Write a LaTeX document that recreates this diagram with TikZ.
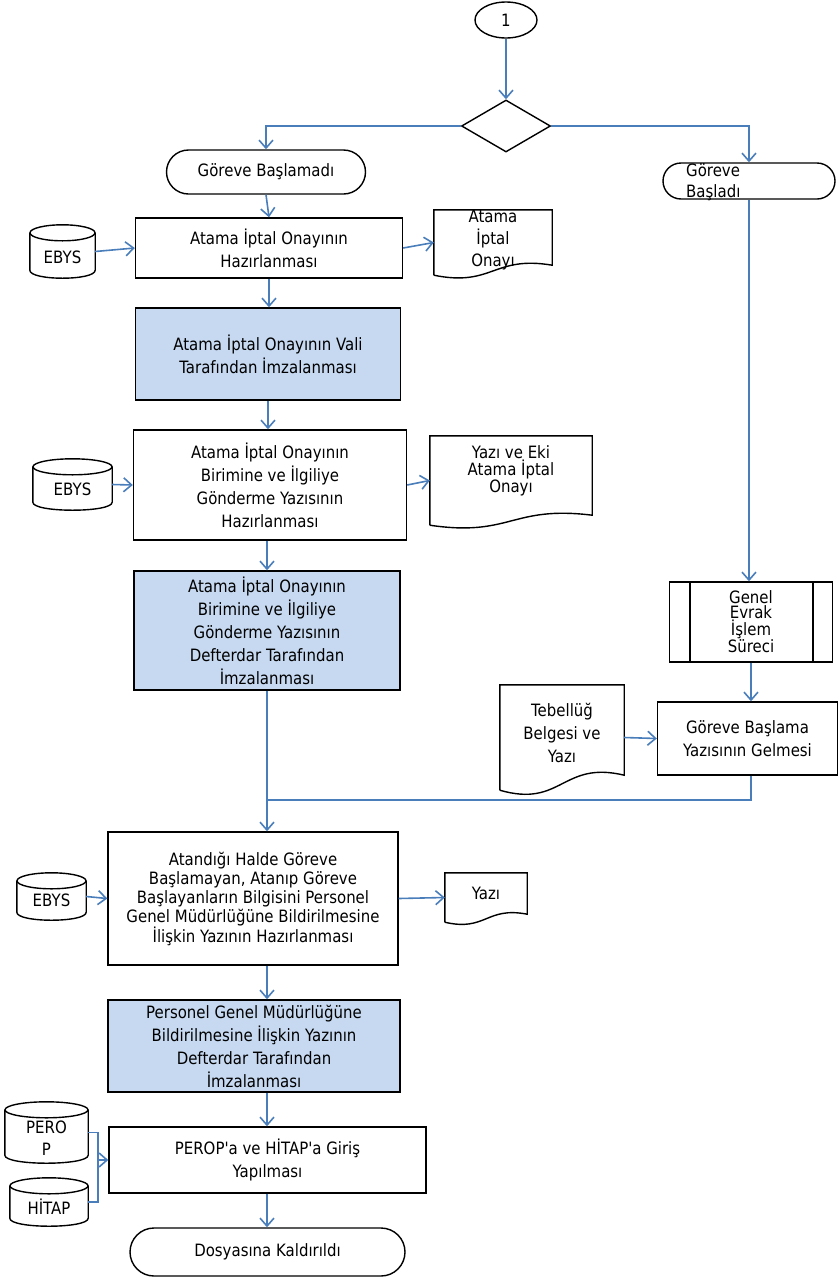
\documentclass[tikz,border=0pt]{standalone}
\usepackage{fontspec}
\setmainfont{DejaVu Sans}[Ligatures=TeXOff,FakeStretch=0.88]
\usetikzlibrary{arrows.meta,shapes.geometric,calc}
\definecolor{lnblue}{HTML}{4A7EBB}
\definecolor{fillblue}{HTML}{C6D9F1}
\newcommand\cylpath[2]{%
  \draw[shp] ($(#1.north)+(0,8)$) ellipse [x radius=#2, y radius=8];
  \draw[shp] ($(#1.north west)+(0,8)$) -- ($(#1.south west)+(0,-8)$)
    .. controls ($(#1.south west)+(0,2.67)$) and ($(#1.south east)+(0,2.67)$) ..
    ($(#1.south east)+(0,-8)$) -- ($(#1.north east)+(0,8)$);}
\newcommand\docpath[2]{%
  \draw[shp] (#1.south west) -- (#1.north west) -- (#1.north east) -- ($(#1.south east)+(0,-#2)$)
    .. controls ($(#1.south)+(0,-2*#2)$) and ($(#1.south)+(0,1.2*#2)$) .. (#1.south west);}
\begin{document}
\begin{tikzpicture}[x=1pt,y=-1pt,
  font=\fontsize{17}{23}\selectfont,
  shp/.style={draw=black,line width=1.4pt},
  box/.style={shp,align=center,inner sep=2pt},
  bluebox/.style={box,fill=fillblue},
  term/.style={shp,align=center,inner sep=0pt},
  ghost/.style={draw=none,inner sep=0pt},
  ln/.style={draw=lnblue,line width=1.6pt},
  arr/.style={ln,-{Straight Barb[length=8pt,width=14pt]}}]
\useasboundingbox (0,0) rectangle (838,1280);

% top
\node[term,ellipse,minimum width=62,minimum height=36] (c1) at (506,20) {1};
\node[shp,diamond,minimum width=89,minimum height=52,inner sep=0pt] (dec) at (506,126) {};
\node[term,rounded corners=22pt,minimum width=199,minimum height=44] (gbm) at (266,172) {Göreve Başlamadı};
\node[term,rounded corners=18pt,minimum width=172,minimum height=36] (gbd) at (749,181) {};
\node[anchor=west,align=left,inner sep=0pt,font=\fontsize{17}{21}\selectfont] (gbdt) at (686,182) {Göreve\\Başladı};

% left column
\node[box,minimum width=267,minimum height=60] (b1) at (269,248) {Atama İptal Onayının\\Hazırlanması};
\node[bluebox,minimum width=265,minimum height=92] (b2) at (268,354) {Atama İptal Onayının Vali\\Tarafından İmzalanması};
\node[box,minimum width=273,minimum height=110] (b3) at (270,485) {Atama İptal Onayının\\Birimine ve İlgiliye\\Gönderme Yazısının\\Hazırlanması};
\node[bluebox,minimum width=266,minimum height=119] (b4) at (267,630.5) {Atama İptal Onayının\\Birimine ve İlgiliye\\Gönderme Yazısının\\Defterdar Tarafından\\İmzalanması};
\node[box,minimum width=290,minimum height=133,font=\fontsize{17}{19}\selectfont] (b5) at (253,898.5) {Atandığı Halde Göreve\\Başlamayan, Atanıp Göreve\\Başlayanların Bilgisini Personel\\Genel Müdürlüğüne Bildirilmesine\\İlişkin Yazının Hazırlanması};
\node[bluebox,minimum width=292,minimum height=92] (b6) at (254,1046) {Personel Genel Müdürlüğüne\\Bildirilmesine İlişkin Yazının\\Defterdar Tarafından\\İmzalanması};
\node[box,minimum width=317,minimum height=66] (b7) at (267.5,1160) {PEROP'a ve HİTAP'a Giriş\\Yapılması};
\node[term,rounded corners=24pt,minimum width=275,minimum height=48] (dk) at (267.5,1252) {Dosyasına Kaldırıldı};

% right column
\node[box,minimum width=163,minimum height=80,font=\fontsize{17}{15}\selectfont] (ev) at (751,622) {Genel\\Evrak\\İşlem\\Süreci};
\draw[shp] (690,582) -- (690,662) (813,582) -- (813,662);
\node[box,minimum width=180,minimum height=73] (gbs) at (747.5,738.5) {Göreve Başlama\\Yazısının Gelmesi};

% cylinders
\node[ghost,minimum width=65,minimum height=53,label={[yshift=-6pt]center:EBYS}] (e1) at (62.5,251.5) {};
\cylpath{e1}{32.5}
\node[ghost,minimum width=79,minimum height=51,label={[yshift=-5pt]center:EBYS}] (e2) at (72.5,484.5) {};
\cylpath{e2}{39.5}
\node[ghost,minimum width=69,minimum height=47,label={[yshift=-4pt]center:EBYS}] (e3) at (51.5,896.5) {};
\cylpath{e3}{34.5}
\node[ghost,minimum width=83,minimum height=61,label={[yshift=-6pt,align=center,font=\fontsize{17}{22}\selectfont]center:{PERO\\P}}] (pe) at (46.5,1132.5) {};
\cylpath{pe}{41.5}
\node[ghost,minimum width=78,minimum height=48,label={[yshift=-5pt]center:HİTAP}] (hi) at (49,1202) {};
\cylpath{hi}{39}

% documents
\node[ghost,minimum width=118,minimum height=65,label={[yshift=2pt,align=center,font=\fontsize{17}{22}\selectfont]center:{Atama\\İptal\\Onayı}}] (d1) at (493,242.5) {};
\docpath{d1}{10}
\node[ghost,minimum width=162,minimum height=89,label={[yshift=10pt,align=center,font=\fontsize{17}{15}\selectfont]center:{Yazı ve Eki\\Atama İptal\\Onayı}}] (d2) at (511,480.5) {};
\docpath{d2}{10}
\node[ghost,minimum width=124,minimum height=105,label={[yshift=5pt,align=center]center:{Tebellüğ\\Belgesi ve\\Yazı}}] (d3) at (562,737.5) {};
\docpath{d3}{15}
\node[ghost,minimum width=82,minimum height=49,label={[yshift=4pt]center:Yazı}] (d4) at (486,897.5) {};
\docpath{d4}{8}

% connectors
\coordinate (m) at (267,800);
\coordinate (j) at (98,1160);
\draw[arr] (c1.south) -- (dec.north);
\draw[arr] (dec.west) -| (gbm.north);
\draw[arr] (dec.east) -| (gbd.north);
\draw[arr] (gbm.south) -- (b1.north);
\draw[arr] (b1.south) -- (b1.south |- b2.north);
\draw[arr] (b2.south) -- (b2.south |- b3.north);
\draw[arr] (b3.south -| b4.south) -- (b4.north);
\draw[arr] (b4.south) -- (b4.south |- b5.north);
\draw[arr] (b4.south |- b5.south) -- (b4.south |- b6.north);
\draw[arr] (b4.south |- b6.south) -- (b4.south |- b7.north);
\draw[arr] (b4.south |- b7.south) -- (b4.south |- dk.north);
\draw[arr] (e1.east) -- (b1.west);
\draw[arr] (e2.east) -- (b3.west);
\draw[arr] (e3.east) -- (b5.west);
\draw[arr] (b1.east) -- (d1.west);
\draw[arr] (b3.east) -- (d2.west);
\draw[arr] (b5.east) -- (d4.west);
\draw[arr] (gbd.south) -- (gbd.south |- ev.north);
\draw[arr] (ev.south) -- (ev.south |- gbs.north);
\draw[arr] (d3.east) -- (gbs.west);
\draw[ln] (ev.south |- gbs.south) |- (m);
\draw[ln] (pe.east) -| (j);
\draw[ln] (hi.east) -| (j);
\draw[arr] (j) -- (b7.west);
\end{tikzpicture}
\end{document}
